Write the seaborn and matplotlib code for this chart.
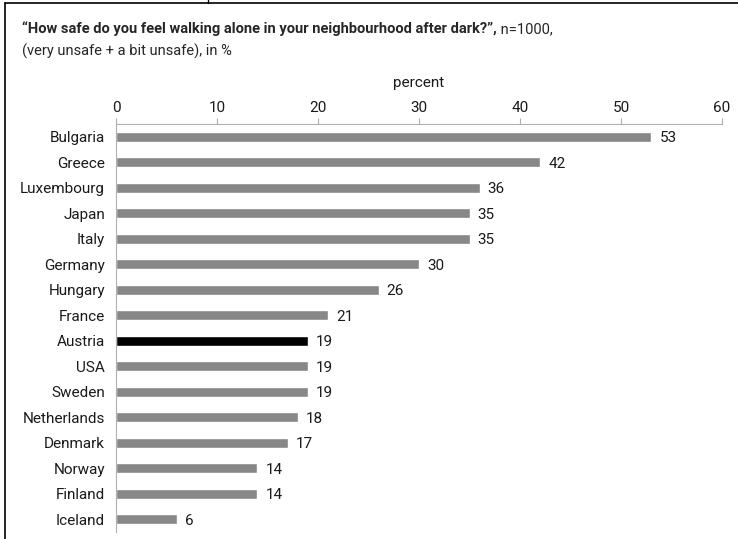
import matplotlib
matplotlib.use("Agg")
import matplotlib.pyplot as plt
import seaborn as sns
import pandas as pd
from matplotlib.lines import Line2D

countries = ["Bulgaria", "Greece", "Luxembourg", "Japan", "Italy", "Germany", "Hungary",
             "France", "Austria", "USA", "Sweden", "Netherlands", "Denmark", "Norway",
             "Finland", "Iceland"]
values = [53, 42, 36, 35, 35, 30, 26, 21, 19, 19, 19, 18, 17, 14, 14, 6]
highlight = "Austria"
xticks = [0, 10, 20, 30, 40, 50, 60]
title_bold = "\u201cHow safe do you feel walking alone in your neighbourhood after dark?\u201d,"
title_rest = " n=1000,"
subtitle = "(very unsafe + a bit unsafe), in %"
xlabel = "percent"

sns.set_theme(style="white")
plt.rcParams['font.family'] = ['Roboto', 'DejaVu Sans']

df = pd.DataFrame({"country": countries, "value": values})
palette = {c: ("#000000" if c == highlight else "#878787") for c in countries}

fs = 11
fig = plt.figure(figsize=(7.38, 5.39), dpi=100)
ax = fig.add_axes([116/738, 1-532/539, (722-116)/738, (532-124)/539])
sns.barplot(data=df, x="value", y="country", hue="country", palette=palette,
            legend=False, width=0.38, ax=ax, orient="h", saturation=1)

ax.set_xlim(0, 60)
ax.set_ylim(len(countries)-0.5, -0.5)
ax.xaxis.tick_top()
ax.xaxis.set_label_position("top")
ax.set_xticks(xticks)
ax.set_xticklabels([str(t) for t in xticks], fontsize=fs, color="#1a1a1a")
ax.set_xlabel(xlabel, fontsize=fs, color="#1a1a1a", labelpad=10)
ax.set_ylabel("")
ax.tick_params(axis="x", which="both", top=True, bottom=False, length=4.5, width=0.8,
               color="#b0b0b0", pad=2)
ax.tick_params(axis="y", left=False, pad=2, labelsize=fs, labelcolor="#1a1a1a")
for s in ["right", "bottom"]:
    ax.spines[s].set_visible(False)
for s in ["top", "left"]:
    ax.spines[s].set_color("#b0b0b0")
    ax.spines[s].set_linewidth(0.8)

for i, v in enumerate(values):
    ax.text(v + 0.8, i + 0.05, str(v), va="center", ha="left", fontsize=fs, color="#1a1a1a")

# frame lines
fig.add_artist(Line2D([5/738, 5/738], [0, 1-3/539], color="black", lw=1.2))
fig.add_artist(Line2D([5/738, 1], [1-3/539, 1-3/539], color="black", lw=1.2))
fig.add_artist(Line2D([208/738, 208/738], [1-3/539, 1], color="black", lw=1.0))

# title
t1 = fig.text(22/738, 1-29/539, title_bold, fontsize=10.5, fontweight="bold", va="center", ha="left")
fig.canvas.draw()
bb = t1.get_window_extent()
fig.text(bb.x1/738, 1-29/539, title_rest, fontsize=10.5, va="center", ha="left")
fig.text(22/738, 1-51/539, subtitle, fontsize=10.5, va="center", ha="left")

fig.savefig("out.png", dpi=100)
